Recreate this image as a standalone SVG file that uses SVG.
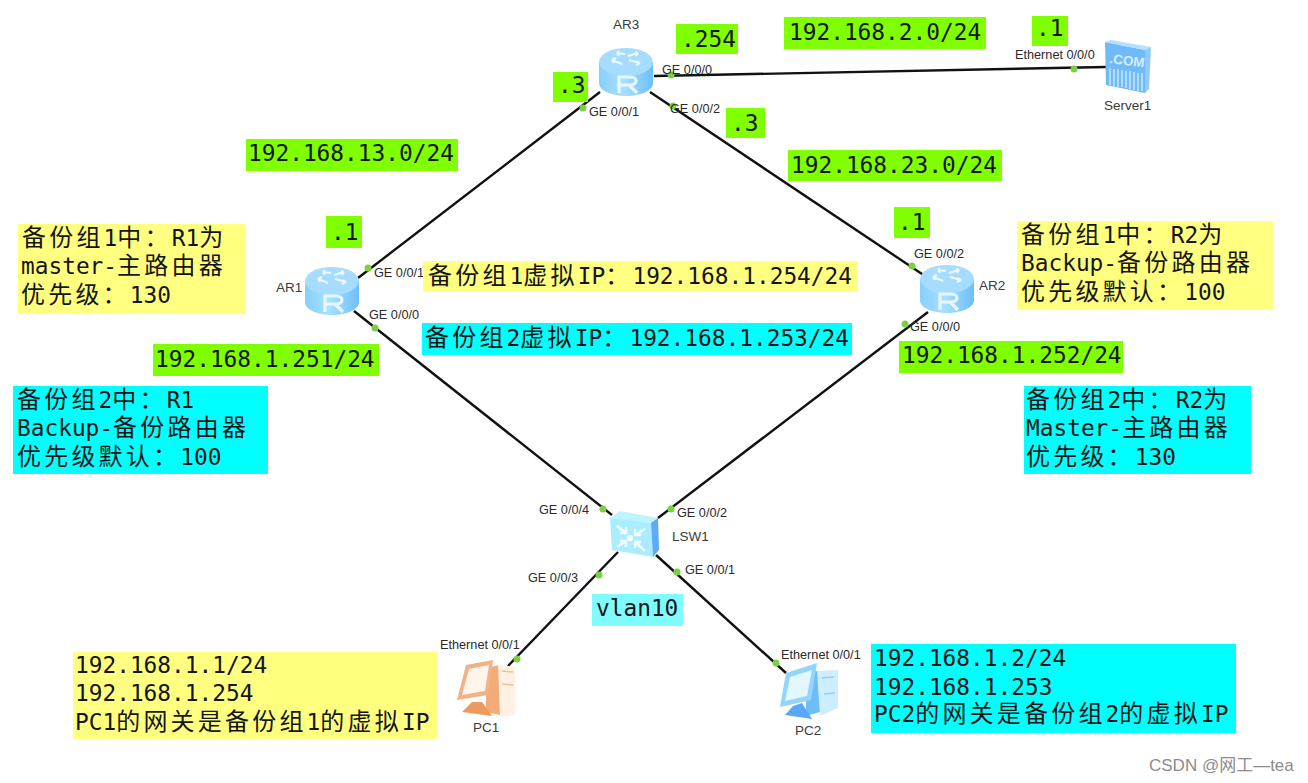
<svg xmlns="http://www.w3.org/2000/svg" width="1308" height="783" viewBox="0 0 1308 783">
<style>
text{font-family:"Liberation Sans",Arial,sans-serif;font-size:12.7px;fill:#2a2a2a}
.n{font-size:13.5px;fill:#3a3a3a}
.l{font-family:"DejaVu Sans Mono","Noto Sans CJK SC",monospace;font-size:22.8px;fill:#151515}
.z{font-size:24px;letter-spacing:3.2px}
.con{stroke:#111;stroke-width:2.4;fill:none}
.dot{fill:#7ccf3e}
.g{fill:#7fff00}.y{fill:#ffff80}.c{fill:#00ffff}.v{fill:#7ffcff}
.arr{stroke:#eefaff;stroke-width:2;fill:none}
</style>
<defs>
<linearGradient id="rb" x1="0" x2="1" y1="0" y2="0"><stop offset="0" stop-color="#86cffc"/><stop offset=".45" stop-color="#a9e0ff"/><stop offset="1" stop-color="#6dbff8"/></linearGradient>
<g id="router">
<path d="M-27-11V10C-27 18-14 23 0 23S27 18 27 10V-11Z" fill="url(#rb)"/>
<ellipse cx="0" cy="-11" rx="27" ry="14" fill="#a6dcff"/>
<path class="arr" d="M-14-13L-4-9M-14-13l4-2M-14-13l2 3M-1-19L-9-20M-9-20l2-2M-9-20l2 3M14-10L3-13M14-10l-3-2M14-10l-4 2M2-17L12-20M12-20l-3-1M12-20l-2 3"/>
<path d="M-7 20V4H4C12 4 12 12 4 12H-7M3 12L11 20" stroke="#e6f7ff" stroke-width="3.2" fill="none"/>
</g>
</defs>
<rect width="1308" height="783" fill="#fff"/>
<g id="connectors">
<line class="con" x1="654" y1="76" x2="1106" y2="67"/>
<line class="con" x1="600" y1="92" x2="358" y2="278"/>
<line class="con" x1="650" y1="92" x2="925" y2="276"/>
<line class="con" x1="354" y1="311" x2="612" y2="515"/>
<line class="con" x1="928" y1="312" x2="658" y2="518"/>
<line class="con" x1="618" y1="552" x2="508" y2="666"/>
<line class="con" x1="656" y1="555" x2="786" y2="673"/>
<circle class="dot" cx="671" cy="75" r="3.5"/><circle class="dot" cx="1074" cy="69" r="3.5"/>
<circle class="dot" cx="583" cy="108" r="3.5"/><circle class="dot" cx="673" cy="106" r="3.5"/>
<circle class="dot" cx="368" cy="268" r="3.5"/><circle class="dot" cx="375" cy="328" r="3.5"/>
<circle class="dot" cx="912" cy="266" r="3.5"/><circle class="dot" cx="905" cy="324" r="3.5"/>
<circle class="dot" cx="603" cy="509" r="3.5"/><circle class="dot" cx="671" cy="509" r="3.5"/>
<circle class="dot" cx="599" cy="575" r="3.5"/><circle class="dot" cx="677" cy="572" r="3.5"/>
<circle class="dot" cx="517" cy="659" r="3.5"/><circle class="dot" cx="776" cy="663" r="3.5"/>
</g>
<g id="port-labels">
<text x="662" y="74">GE 0/0/0</text><text x="589" y="116">GE 0/0/1</text><text x="670" y="113">GE 0/0/2</text>
<text x="1015" y="59">Ethernet 0/0/0</text>
<text x="374" y="277">GE 0/0/1</text><text x="369" y="319">GE 0/0/0</text>
<text x="914" y="258">GE 0/0/2</text><text x="910" y="331">GE 0/0/0</text>
<text x="539" y="514">GE 0/0/4</text><text x="677" y="517">GE 0/0/2</text>
<text x="528" y="582">GE 0/0/3</text><text x="685" y="574">GE 0/0/1</text>
<text x="440" y="649">Ethernet 0/0/1</text><text x="781" y="659">Ethernet 0/0/1</text>
</g>
<g id="AR3"><use href="#router" x="626" y="73"/><text class="n" x="613" y="29">AR3</text></g>
<g id="AR1"><use href="#router" x="332" y="292"/><text class="n" x="276" y="292">AR1</text></g>
<g id="AR2"><use href="#router" x="947" y="290"/><text class="n" x="979" y="290">AR2</text></g>
<g id="Server1">
<path d="M1105 42L1145 50V93L1106 85Z" fill="#70bafa"/>
<path d="M1105 42L1111 40L1151 47L1145 50Z" fill="#b5e0ff"/>
<path d="M1145 50L1151 47L1149 89L1145 93Z" fill="#8fccfb"/>
<text transform="translate(1109 63) rotate(7)" style="font-size:13.5px;font-weight:bold;fill:#d5efff">.COM</text>
<path d="M1110 68V85M1114 69V86M1118 69V87M1122 70V87M1126 71V88M1130 71V89M1134 72V90M1138 73V91M1142 73V91" stroke="#c4e5ff" stroke-width="1.6" fill="none"/>
<text class="n" x="1104" y="110">Server1</text>
</g>
<g id="LSW1">
<path d="M610 518L620 511L658 518L651 523Z" fill="#bdf4ff"/>
<path d="M610 518L651 523L653 557L612 550Z" fill="#a9edff"/>
<path d="M651 523L658 518L659 550L653 557Z" fill="#5fa9f5"/>
<path d="M617 526L626 533M626 527V533H620M645 529L635 535M635 529V535H641M617 547L626 541M620 541H626V547M645 551L635 542M635 548V542H641" stroke="#f4fdff" stroke-width="2.4" fill="none"/>
<circle cx="630" cy="538" r="3" fill="#fff"/>
<text class="n" x="672" y="541">LSW1</text>
</g>
<g id="PC1">
<path d="M486 668L500 665V715L486 712Z" fill="#f4ab78"/>
<path d="M498 665L515 667V715L500 717Z" fill="#fff1e3"/>
<path d="M502 671L513 672M502 684L513 685" stroke="#f5bc92" stroke-width="1.6"/>
<path d="M466 665L493 660 488 695 457 700Z" fill="#f3b285"/>
<path d="M469 669L489 665 485 691 462 695Z" fill="#fff5ea"/>
<path d="M462 712L492 716L482 702H472Z" fill="#ee9a5e"/>
<text class="n" x="473" y="732">PC1</text>
</g>
<g id="PC2">
<path d="M806 668L820 672V712L806 716Z" fill="#6fbdf7"/>
<path d="M817 671L838 670V708L820 716Z" fill="#cdeeff"/>
<path d="M822 678L834 677M824 694L835 693" stroke="#8fd0fb" stroke-width="1.6"/>
<path d="M786 673L817 663 811 700 780 707Z" fill="#93d5fc"/>
<path d="M790 677L812 670 807 696 785 701Z" fill="#e4f7ff"/>
<path d="M785 715L812 719L802 703L793 706Z" fill="#5aa8f5"/>
<text class="n" x="795" y="735">PC2</text>
</g>
<g id="label-boxes">
<rect class="g" x="553" y="72" width="35" height="30"/><text class="l" x="558" y="93">.3</text>
<rect class="g" x="676" y="24" width="62" height="30"/><text class="l" x="681" y="47">.254</text>
<rect class="g" x="784" y="17" width="202" height="32"/><text class="l" x="789" y="40">192.168.2.0/24</text>
<rect class="g" x="1032" y="16" width="36" height="30"/><text class="l" x="1036" y="36">.1</text>
<rect class="g" x="726" y="108" width="39" height="30"/><text class="l" x="731" y="131">.3</text>
<rect class="g" x="246" y="139" width="212" height="32"/><text class="l" x="248" y="161">192.168.13.0/24</text>
<rect class="g" x="788" y="150" width="214" height="31"/><text class="l" x="791" y="173">192.168.23.0/24</text>
<rect class="g" x="326" y="216" width="36" height="32"/><text class="l" x="331" y="240">.1</text>
<rect class="g" x="894" y="207" width="36" height="31"/><text class="l" x="898" y="230">.1</text>
<rect class="y" x="18" y="224" width="228" height="90"/>
<text class="l" x="22" y="246"><tspan class="z">备份组</tspan>1<tspan class="z">中：</tspan>R1<tspan class="z">为</tspan></text>
<text class="l" x="21" y="274">master-<tspan class="z">主路由器</tspan></text>
<text class="l" x="21" y="303"><tspan class="z">优先级：</tspan>130</text>
<rect class="y" x="1017" y="221" width="256" height="89"/>
<text class="l" x="1021" y="243"><tspan class="z">备份组</tspan>1<tspan class="z">中：</tspan>R2<tspan class="z">为</tspan></text>
<text class="l" x="1021" y="271">Backup-<tspan class="z">备份路由器</tspan></text>
<text class="l" x="1021" y="300"><tspan class="z">优先级默认：</tspan>100</text>
<rect class="y" x="423" y="261" width="435" height="31"/>
<text class="l" x="428" y="284"><tspan class="z">备份组</tspan>1<tspan class="z">虚拟</tspan>IP<tspan class="z">：</tspan>192.168.1.254/24</text>
<rect class="c" x="422" y="323" width="430" height="32"/>
<text class="l" x="425" y="346"><tspan class="z">备份组</tspan>2<tspan class="z">虚拟</tspan>IP<tspan class="z">：</tspan>192.168.1.253/24</text>
<rect class="g" x="153" y="344" width="226" height="32"/><text class="l" x="155" y="367">192.168.1.251/24</text>
<rect class="g" x="899" y="341" width="224" height="32"/><text class="l" x="902" y="363">192.168.1.252/24</text>
<rect class="c" x="13" y="386" width="255" height="88"/>
<text class="l" x="17" y="408"><tspan class="z">备份组</tspan>2<tspan class="z">中：</tspan>R1</text>
<text class="l" x="17" y="436">Backup-<tspan class="z">备份路由器</tspan></text>
<text class="l" x="17" y="465"><tspan class="z">优先级默认：</tspan>100</text>
<rect class="c" x="1024" y="386" width="227" height="88"/>
<text class="l" x="1026" y="408"><tspan class="z">备份组</tspan>2<tspan class="z">中：</tspan>R2<tspan class="z">为</tspan></text>
<text class="l" x="1026" y="436">Master-<tspan class="z">主路由器</tspan></text>
<text class="l" x="1026" y="465"><tspan class="z">优先级：</tspan>130</text>
<rect class="v" x="592" y="594" width="91" height="32"/><text class="l" x="596" y="616">vlan10</text>
<rect class="y" x="73" y="652" width="364" height="87"/>
<text class="l" x="75" y="673">192.168.1.1/24</text>
<text class="l" x="75" y="701">192.168.1.254</text>
<text class="l" x="75" y="730">PC1<tspan class="z">的网关是备份组</tspan>1<tspan class="z">的虚拟</tspan>IP</text>
<rect class="c" x="871" y="644" width="365" height="89"/>
<text class="l" x="874" y="666">192.168.1.2/24</text>
<text class="l" x="874" y="695">192.168.1.253</text>
<text class="l" x="874" y="722">PC2<tspan class="z">的网关是备份组</tspan>2<tspan class="z">的虚拟</tspan>IP</text>
</g>
<text id="watermark" x="1149" y="771" style="font-family:'Liberation Sans','Noto Sans CJK SC',sans-serif;font-size:17px;fill:#8c8c8c">CSDN @网工—tea</text>
</svg>
